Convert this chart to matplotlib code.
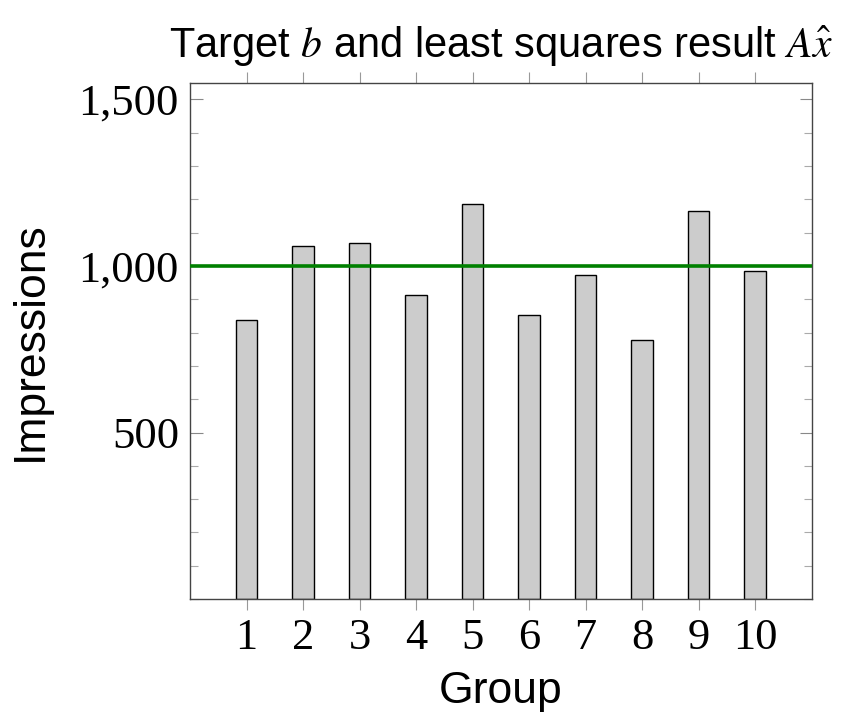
import matplotlib
matplotlib.use('Agg')
import matplotlib.pyplot as plt
from matplotlib.ticker import MultipleLocator, FuncFormatter

groups = [1, 2, 3, 4, 5, 6, 7, 8, 9, 10]
impressions = [839, 1059, 1068, 914, 1186, 854, 974, 777, 1165, 986]
target = 1000

plt.rcParams['mathtext.fontset'] = 'stix'

fig = plt.figure(figsize=(8.61, 7.15), dpi=100)
ax = fig.add_axes([0.2207, 0.1622, 0.722, 0.722])

ax.bar(groups, impressions, width=0.38, color='#cccccc', edgecolor='black', linewidth=1.0, zorder=2)
ax.axhline(target, color='#008000', linewidth=2.6, zorder=3)

ax.set_xlim(0, 11)
ax.set_ylim(0, 1550)
ax.set_xticks(groups)
ax.set_yticks([500, 1000, 1500])
ax.yaxis.set_minor_locator(MultipleLocator(100))
ax.yaxis.set_major_formatter(FuncFormatter(lambda v, p: '{:,.0f}'.format(v)))

ax.tick_params(axis='x', direction='out', length=8, width=0.8, color='#999999',
               top=True, bottom=True, labelsize=32, pad=6)
ax.tick_params(axis='y', which='major', direction='in', length=9, width=0.8, color='#888888',
               left=True, right=True, labelsize=32, pad=8)
ax.tick_params(axis='y', which='minor', direction='in', length=6, width=0.8, color='#aaaaaa',
               left=True, right=True)
for lab in ax.get_xticklabels() + ax.get_yticklabels():
    lab.set_fontfamily('Liberation Serif')
for s in ax.spines.values():
    s.set_color('#444444')
    s.set_linewidth(1.0)

ax.set_xlabel('Group', fontsize=32, family='Liberation Sans', labelpad=9)
ax.set_ylabel('Impressions', fontsize=32, family='Liberation Sans', labelpad=20)
ax.set_title(r'Target $b$ and least squares result $A\hat{x}$', fontsize=30,
             family='Liberation Sans', pad=18)

fig.savefig('out.png', dpi=100)
